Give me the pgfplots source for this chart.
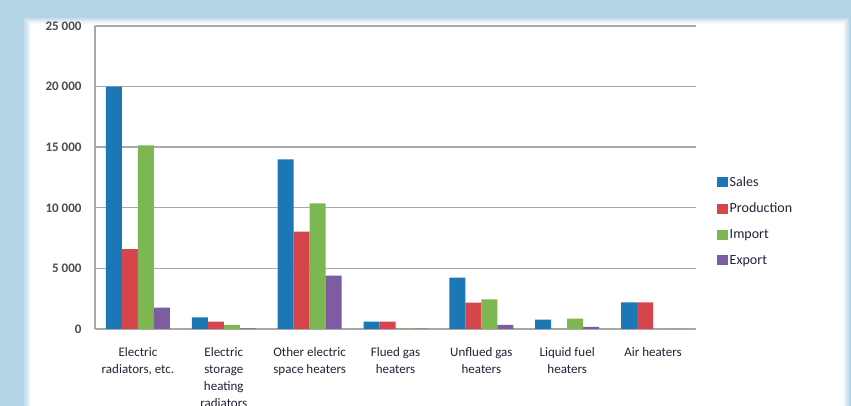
\documentclass[border=0pt]{standalone}
\usepackage{pgfplots}
\pgfplotsset{compat=1.18}
\usepackage{fontspec}
\setmainfont{Carlito}
\definecolor{bgblue}{HTML}{B4D3E4}
\definecolor{cSales}{HTML}{1B77B6}
\definecolor{cProd}{HTML}{D7454C}
\definecolor{cImp}{HTML}{7CB752}
\definecolor{cExp}{HTML}{7E5CA1}
\definecolor{gridc}{HTML}{A8A8A8}
\definecolor{txtc}{HTML}{22223A}
\pgfplotstableread{
x sales prod imp exp
0 20000 6600 15150 1760
1 965 600 330 50
2 14000 8030 10370 4400
3 600 600 50 30
4 4230 2170 2450 350
5 770 20 850 170
6 2200 2200 0 0
}\datatable
\begin{document}
\begin{tikzpicture}
\fill[bgblue] (0pt,0pt) rectangle (851pt,406pt);
\fill[bgblue!70!white] (24pt,0pt) rectangle (849pt,388pt);
\fill[bgblue!40!white] (27pt,0pt) rectangle (847pt,386pt);
\fill[bgblue!15!white] (29pt,0pt) rectangle (845pt,384pt);
\fill[white] (31pt,0pt) rectangle (843pt,382pt);
\begin{axis}[
  at={(95pt,77pt)}, anchor=south west,
  scale only axis, width=601pt, height=303pt,
  ybar=0pt, bar width=16pt,
  xmin=-0.5, xmax=6.5, ymin=0, ymax=25000,
  xtick=data,
  xticklabels={Electric\\radiators{,} etc.,Electric\\storage\\heating\\radiators,Other electric\\space heaters,Flued gas\\heaters,Unflued gas\\heaters,Liquid fuel\\heaters,Air heaters},
  xticklabel style={font=\fontsize{13}{17}\selectfont, align=center, text=txtc, anchor=north, yshift=-12pt},
  ytick={0,5000,10000,15000,20000,25000},
  yticklabels={0,5 000,10 000,15 000,20 000,25 000},
  yticklabel style={font=\fontsize{13}{15}\selectfont\bfseries, text=black!70, anchor=east, xshift=-10pt},
  major tick length=3pt,
  xtick style={draw=none},
  ytick style={draw=gridc, line width=1pt},
  axis x line*=bottom, axis y line*=left,
  axis line style={draw=gridc, line width=1.4pt, -},
  ymajorgrids, grid style={draw=gridc, line width=1.4pt},
  scaled y ticks=false,
  legend style={at={(1.035,0.51)}, anchor=north west, draw=none, fill=none,
    font=\fontsize{14}{16}\selectfont, text=txtc, row sep=11.2pt,
    legend cell align=left, inner sep=0pt},
  legend image code/.code={\fill[#1] (0pt,-5pt) rectangle (10.5pt,5pt);},
]
\addplot[fill=cSales, draw=none] table[x=x, y=sales] {\datatable};
\addplot[fill=cProd, draw=none] table[x=x, y=prod] {\datatable};
\addplot[fill=cImp, draw=none] table[x=x, y=imp] {\datatable};
\addplot[fill=cExp, draw=none] table[x=x, y=exp] {\datatable};
\legend{Sales,Production,Import,Export}
\end{axis}
\pgfresetboundingbox
\path[use as bounding box] (0pt,0pt) rectangle (851pt,406pt);
\end{tikzpicture}
\end{document}
